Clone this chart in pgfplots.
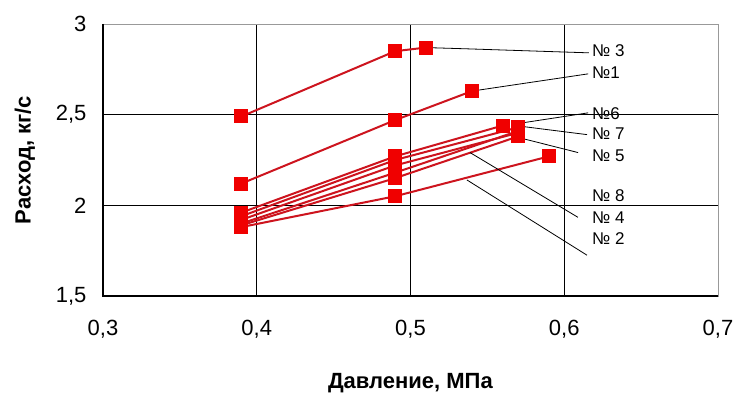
\documentclass[border=0pt]{standalone}
\usepackage{fontspec}
\setmainfont{Liberation Sans}
\usepackage{pgfplots}
\pgfplotsset{compat=1.18}
\definecolor{ln}{RGB}{205,20,30}
\definecolor{mk}{RGB}{240,0,0}
\tikzset{ser/.style={color=ln, solid, line width=2pt, mark=square*,
     mark options={fill=mk, draw=mk, solid}, mark size=6pt}}
\begin{document}
\begin{tikzpicture}
\useasboundingbox (0,0) rectangle (734pt,394pt);
\begin{axis}[
  at={(103pt,98pt)}, anchor=south west,
  scale only axis, width=615pt, height=272pt,
  xmin=0.3, xmax=0.7, ymin=1.5, ymax=3,
  xtick={0.4,0.5,0.6}, xticklabels={{0,4},{0,5},{0,6}},
  ytick={2,2.5}, yticklabels={2,{2,5}},
  extra x ticks={0.3,0.7}, extra x tick labels={{0,3},{0,7}},
  extra y ticks={1.5,3}, extra y tick labels={{1,5},3},
  extra x tick style={grid=none}, extra y tick style={grid=none},
  major tick length=0,
  grid=major, major grid style={black, line width=1pt},
  axis line style={gray!80, line width=0.8pt},
  tick label style={font=\fontsize{22}{22}\selectfont},
  xticklabel style={yshift=-21pt},
  yticklabel style={xshift=-13pt},
  xlabel={\textbf{Давление, МПа}},
  ylabel={\textbf{Расход, кг/с}},
  label style={font=\fontsize{22}{22}\selectfont},
  xlabel style={at={(axis description cs:0.5,-0.32)}, anchor=center},
  ylabel style={at={(axis description cs:-0.127,0.5)}, anchor=center, rotate=0},
  clip=false,
]
% No 3
\addplot[ser] coordinates {(0.39,2.49) (0.49,2.85) (0.51,2.87)};
% No 1
\addplot[ser] coordinates {(0.39,2.12) (0.49,2.47) (0.54,2.63)};
% No 6
\addplot[ser] coordinates {(0.39,1.96) (0.49,2.27) (0.56,2.44)};
% No 7
\addplot[ser] coordinates {(0.39,1.94) (0.49,2.25) (0.57,2.43)};
% No 5
\addplot[ser] coordinates {(0.39,1.92) (0.49,2.22) (0.57,2.40)};
% No 8
\addplot[ser] coordinates {(0.39,1.90) (0.49,2.18) (0.57,2.41)};
% No 4
\addplot[ser] coordinates {(0.39,1.89) (0.49,2.15) (0.57,2.38)};
% No 2
\addplot[ser] coordinates {(0.39,1.88) (0.49,2.05) (0.59,2.27)};

% leader lines
\draw[black, line width=0.8pt] (axis cs:0.51,2.87) -- (axis cs:0.537,2.863) -- (axis cs:0.616,2.841);
\draw[black, line width=0.8pt] (axis cs:0.54,2.63) -- (axis cs:0.6155,2.725);
\draw[black, line width=0.8pt] (axis cs:0.569,2.45) -- (axis cs:0.6155,2.51);
\draw[black, line width=0.8pt] (axis cs:0.568,2.44) -- (axis cs:0.6148,2.39);
\draw[black, line width=0.8pt] (axis cs:0.573,2.368) -- (axis cs:0.609,2.291);
\draw[black, line width=0.8pt] (axis cs:0.5387,2.291) -- (axis cs:0.6089,1.934);
\draw[black, line width=0.8pt] (axis cs:0.5367,2.14) -- (axis cs:0.6148,1.725);

% labels
\begin{scope}[every node/.style={anchor=west, inner sep=0pt, font=\fontsize{17}{17}\selectfont}]
\node at (axis cs:0.618,2.852) {№ 3};
\node at (axis cs:0.618,2.731) {№1};
\node at (axis cs:0.618,2.505) {№6};
\node at (axis cs:0.618,2.396) {№ 7};
\node at (axis cs:0.618,2.275) {№ 5};
\node at (axis cs:0.618,2.055) {№ 8};
\node at (axis cs:0.618,1.934) {№ 4};
\node at (axis cs:0.618,1.819) {№ 2};
\end{scope}
\end{axis}
\draw[black, line width=2.5pt] (103pt,370pt) -- (103pt,98pt) -- (718pt,98pt);
\end{tikzpicture}
\end{document}
